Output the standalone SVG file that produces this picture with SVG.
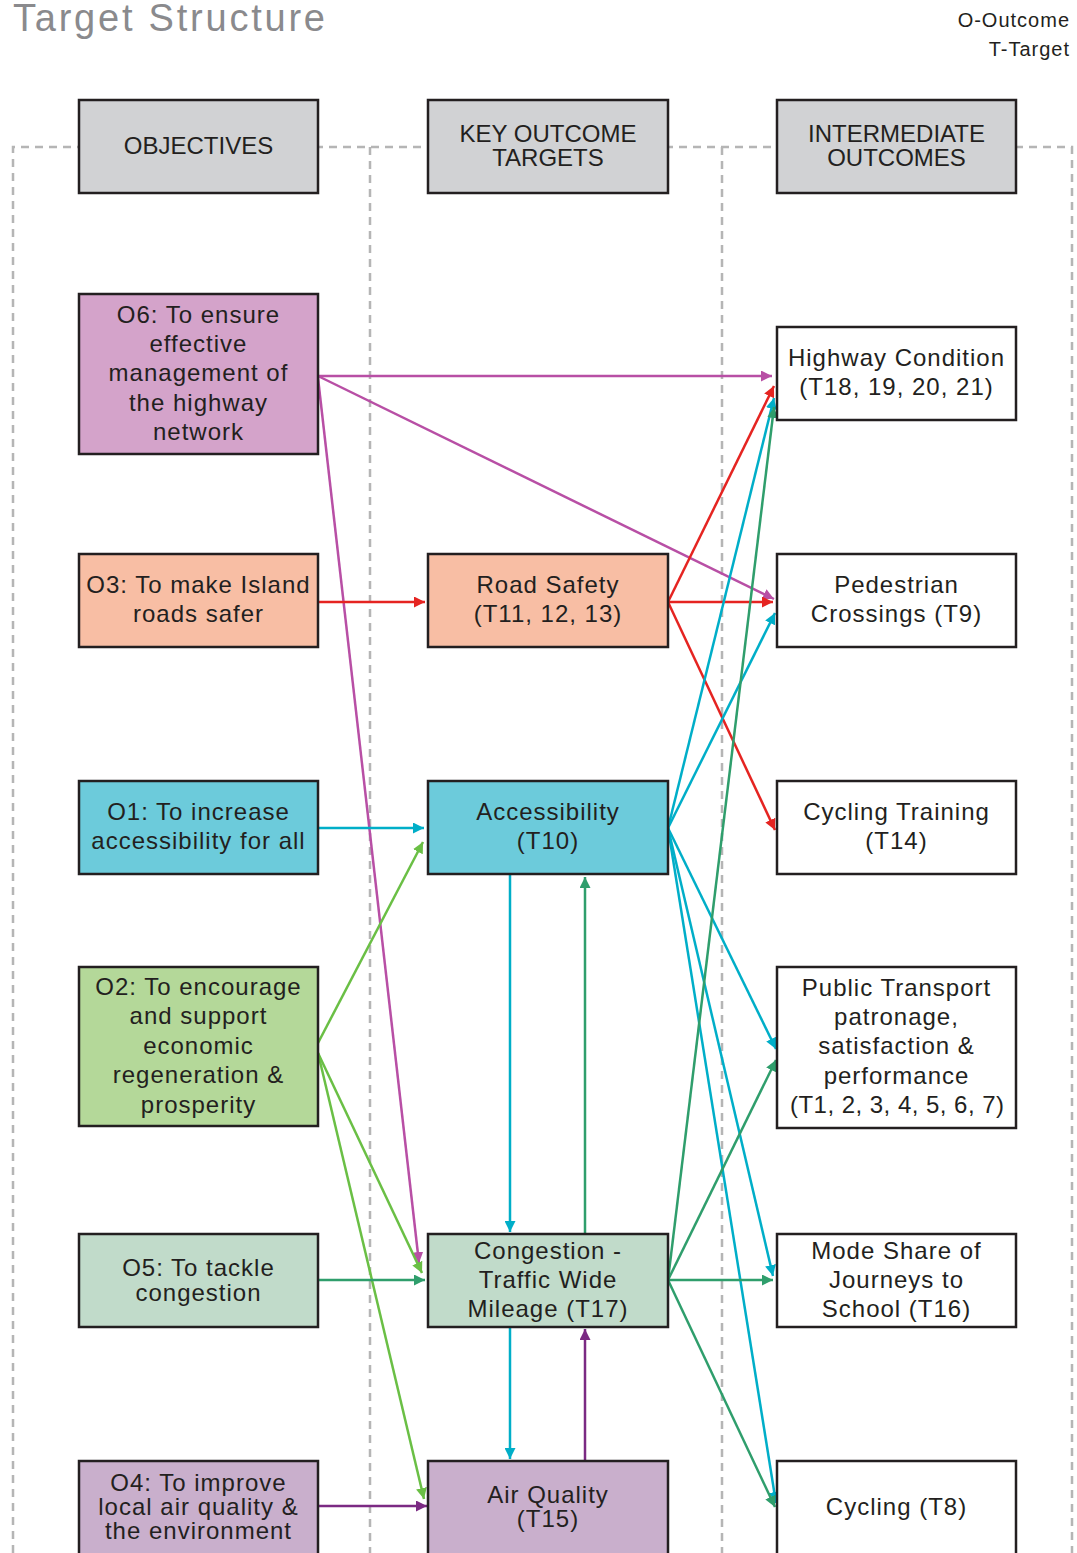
<svg xmlns="http://www.w3.org/2000/svg" width="1077" height="1553" viewBox="0 0 1077 1553">
<style>
text{font-family:"Liberation Sans",Arial,sans-serif;fill:#231f20;}
.t{font-size:24px;letter-spacing:1px;text-anchor:middle;}
.h{font-size:24px;text-anchor:middle;}
.box{stroke:#231f20;stroke-width:2.5;}
.dash{stroke:#b5b5b5;stroke-width:2.5;stroke-dasharray:8 6;fill:none;}
.c{fill:none;stroke-width:2.5;}
.pink{stroke:#b84fa5;marker-end:url(#mpink);}
.red{stroke:#e52421;marker-end:url(#mred);}
.cyan{stroke:#00aec8;marker-end:url(#mcyan);}
.lg{stroke:#6abf45;marker-end:url(#mlg);}
.dg{stroke:#2f9e6c;marker-end:url(#mdg);}
.pur{stroke:#7b2a83;marker-end:url(#mpur);}
</style>
<defs>
<marker id="mpink" markerUnits="userSpaceOnUse" markerWidth="12" markerHeight="11" refX="11" refY="5.5" orient="auto"><path d="M0,0 L11,5.5 L0,11 z" fill="#b84fa5"/></marker>
<marker id="mred" markerUnits="userSpaceOnUse" markerWidth="12" markerHeight="11" refX="11" refY="5.5" orient="auto"><path d="M0,0 L11,5.5 L0,11 z" fill="#e52421"/></marker>
<marker id="mcyan" markerUnits="userSpaceOnUse" markerWidth="12" markerHeight="11" refX="11" refY="5.5" orient="auto"><path d="M0,0 L11,5.5 L0,11 z" fill="#00aec8"/></marker>
<marker id="mlg" markerUnits="userSpaceOnUse" markerWidth="12" markerHeight="11" refX="11" refY="5.5" orient="auto"><path d="M0,0 L11,5.5 L0,11 z" fill="#6abf45"/></marker>
<marker id="mdg" markerUnits="userSpaceOnUse" markerWidth="12" markerHeight="11" refX="11" refY="5.5" orient="auto"><path d="M0,0 L11,5.5 L0,11 z" fill="#2f9e6c"/></marker>
<marker id="mpur" markerUnits="userSpaceOnUse" markerWidth="12" markerHeight="11" refX="11" refY="5.5" orient="auto"><path d="M0,0 L11,5.5 L0,11 z" fill="#7b2a83"/></marker>
</defs>
<rect width="1077" height="1553" fill="#ffffff"/>
<text x="13" y="31" font-size="38" textLength="312" lengthAdjust="spacing" style="fill:#8a8a8d">Target Structure</text>
<text x="1070" y="27" font-size="20" text-anchor="end" letter-spacing="1">O-Outcome</text>
<text x="1070" y="56" font-size="20" text-anchor="end" letter-spacing="1">T-Target</text>
<g id="guides">
<path class="dash" d="M13,1553 V147 H1072 V1553"/>
<path class="dash" d="M370,147 V1553"/>
<path class="dash" d="M722,147 V1553"/>
</g>
<g id="connectors">
<path class="c pink" d="M318,376 L772,376"/>
<path class="c pink" d="M318,376 L774,599"/>
<path class="c pink" d="M318,378 L419,1263"/>
<path class="c red" d="M318,602 L425,602"/>
<path class="c red" d="M668,602 L774,386"/>
<path class="c red" d="M668,602 L773,602"/>
<path class="c red" d="M668,602 L775,830"/>
<path class="c cyan" d="M318,828 L424,828"/>
<path class="c cyan" d="M668,828 L774,398"/>
<path class="c cyan" d="M668,828 L775,613"/>
<path class="c cyan" d="M668,828 L776,1049"/>
<path class="c cyan" d="M668,828 L773,1276"/>
<path class="c cyan" d="M668,828 L776,1503"/>
<path class="c cyan" d="M510,874 L510,1232"/>
<path class="c cyan" d="M510,1327 L510,1459"/>
<path class="c lg" d="M318,1043 L423,842"/>
<path class="c lg" d="M318,1053 L422,1273"/>
<path class="c lg" d="M318,1053 L424,1499"/>
<path class="c dg" d="M318,1280 L425,1280"/>
<path class="c dg" d="M668,1280 L774,407"/>
<path class="c dg" d="M668,1280 L776,1060"/>
<path class="c dg" d="M668,1280 L773,1280"/>
<path class="c dg" d="M668,1280 L775,1507"/>
<path class="c dg" d="M585,1234 L585,877"/>
<path class="c pur" d="M318,1506 L427,1506"/>
<path class="c pur" d="M585,1461 L585,1329"/>
</g>
<g id="hdr-objectives"><rect class="box" x="79" y="100" width="239" height="93" fill="#d1d2d4"/><text class="h" x="198.5" y="154">OBJECTIVES</text></g>
<g id="hdr-key"><rect class="box" x="428" y="100" width="240" height="93" fill="#d1d2d4"/><text class="h" x="548" y="142">KEY OUTCOME</text><text class="h" x="548" y="166">TARGETS</text></g>
<g id="hdr-intermediate"><rect class="box" x="777" y="100" width="239" height="93" fill="#d1d2d4"/><text class="h" x="896.5" y="142">INTERMEDIATE</text><text class="h" x="896.5" y="166">OUTCOMES</text></g>
<g id="o6"><rect class="box" x="79" y="294" width="239" height="160" fill="#d4a3ca"/>
<text class="t" x="198.5" y="323">O6: To ensure</text><text class="t" x="198.5" y="352">effective</text><text class="t" x="198.5" y="381">management of</text><text class="t" x="198.5" y="411">the highway</text><text class="t" x="198.5" y="440">network</text></g>
<g id="highway"><rect class="box" x="777" y="327" width="239" height="93" fill="#ffffff"/><text class="t" x="896.5" y="366">Highway Condition</text><text class="t" x="896.5" y="395">(T18, 19, 20, 21)</text></g>
<g id="o3"><rect class="box" x="79" y="554" width="239" height="93" fill="#f8bea4"/><text class="t" x="198.5" y="593">O3: To make Island</text><text class="t" x="198.5" y="622">roads safer</text></g>
<g id="roadsafety"><rect class="box" x="428" y="554" width="240" height="93" fill="#f8bea4"/><text class="t" x="548" y="593">Road Safety</text><text class="t" x="548" y="622">(T11, 12, 13)</text></g>
<g id="pedestrian"><rect class="box" x="777" y="554" width="239" height="93" fill="#ffffff"/><text class="t" x="896.5" y="593">Pedestrian</text><text class="t" x="896.5" y="622">Crossings (T9)</text></g>
<g id="o1"><rect class="box" x="79" y="781" width="239" height="93" fill="#6ccbdb"/><text class="t" x="198.5" y="820">O1: To increase</text><text class="t" x="198.5" y="849">accessibility for all</text></g>
<g id="accessibility"><rect class="box" x="428" y="781" width="240" height="93" fill="#6ccbdb"/><text class="t" x="548" y="820">Accessibility</text><text class="t" x="548" y="849">(T10)</text></g>
<g id="cyclingtraining"><rect class="box" x="777" y="781" width="239" height="93" fill="#ffffff"/><text class="t" x="896.5" y="820">Cycling Training</text><text class="t" x="896.5" y="849">(T14)</text></g>
<g id="o2"><rect class="box" x="79" y="967" width="239" height="159" fill="#b4d899"/>
<text class="t" x="198.5" y="995">O2: To encourage</text><text class="t" x="198.5" y="1024">and support</text><text class="t" x="198.5" y="1054">economic</text><text class="t" x="198.5" y="1083">regeneration &amp;</text><text class="t" x="198.5" y="1113">prosperity</text></g>
<g id="publictransport"><rect class="box" x="777" y="967" width="239" height="161" fill="#ffffff"/>
<text class="t" x="896.5" y="996">Public Transport</text><text class="t" x="896.5" y="1025">patronage,</text><text class="t" x="896.5" y="1054">satisfaction &amp;</text><text class="t" x="896.5" y="1084">performance</text><text class="t" x="897" y="1113" textLength="214" lengthAdjust="spacing" style="letter-spacing:0">(T1, 2, 3, 4, 5, 6, 7)</text></g>
<g id="o5"><rect class="box" x="79" y="1234" width="239" height="93" fill="#c1dbca"/><text class="t" x="198.5" y="1276">O5: To tackle</text><text class="t" x="198.5" y="1301">congestion</text></g>
<g id="congestion"><rect class="box" x="428" y="1234" width="240" height="93" fill="#c1dbca"/><text class="t" x="548" y="1259">Congestion -</text><text class="t" x="548" y="1288">Traffic Wide</text><text class="t" x="548" y="1317">Mileage (T17)</text></g>
<g id="modeshare"><rect class="box" x="777" y="1234" width="239" height="93" fill="#ffffff"/><text class="t" x="896.5" y="1259">Mode Share of</text><text class="t" x="896.5" y="1288">Journeys to</text><text class="t" x="896.5" y="1317">School (T16)</text></g>
<g id="o4"><rect class="box" x="79" y="1461" width="239" height="110" fill="#c9afcc"/><text class="t" x="198.5" y="1491">O4: To improve</text><text class="t" x="198.5" y="1515">local air quality &amp;</text><text class="t" x="198.5" y="1539">the environment</text></g>
<g id="airquality"><rect class="box" x="428" y="1461" width="240" height="110" fill="#c9afcc"/><text class="t" x="548" y="1503">Air Quality</text><text class="t" x="548" y="1527">(T15)</text></g>
<g id="cycling"><rect class="box" x="777" y="1461" width="239" height="110" fill="#ffffff"/><text class="t" x="896.5" y="1515">Cycling (T8)</text></g>
</svg>
